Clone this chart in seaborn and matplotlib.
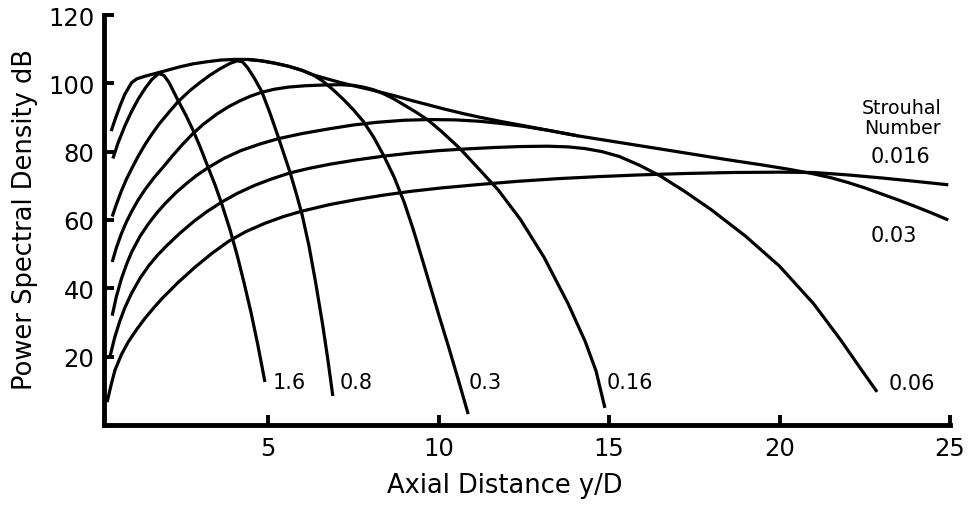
import matplotlib
matplotlib.use("Agg")
import matplotlib.pyplot as plt
import pandas as pd
import seaborn as sns

# Power spectral density along the jet axis, one curve per Strouhal number
st_labels = ["1.6", "0.8", "0.3", "0.16", "0.06", "0.03", "0.016"]

x_st_1_6 = [0.45, 0.6, 0.8, 1.0, 1.2, 1.4, 1.6, 1.8, 1.95, 2.1, 2.36, 2.6, 2.8, 3.0, 3.24,
            3.45, 3.65, 3.89, 4.1, 4.3, 4.5, 4.7, 4.91]
y_st_1_6 = [78, 82.5, 87.5, 91.8, 95.5, 98.6, 101.2, 102.9, 102.3, 100.2, 95.0, 90.5, 86.3,
            81.6, 75.5, 70.2, 64.5, 57.0, 49.5, 41.5, 33.0, 23.5, 12.6]

x_st_0_8 = [0.43, 0.55, 0.7, 0.85, 1.0, 1.2, 1.4, 1.6, 1.8, 2.1, 2.36, 2.7, 3.0, 3.3, 3.6,
            3.9, 4.1, 4.25, 4.4, 4.6, 4.82, 5.05, 5.3, 5.5, 5.65, 5.85, 6.0, 6.2, 6.4,
            6.6, 6.75, 6.9]
y_st_0_8 = [61, 64.5, 68.5, 72, 75, 78.8, 82.2, 85.2, 88, 91.6, 94.6, 97.8, 100.2, 102.4,
            104.3, 105.9, 106.6, 106.3, 104.6, 101.5, 97.5, 91.5, 84.3, 78.3, 73.8, 67,
            61.5, 52.5, 41.5, 29.5, 19.5, 8.5]

x_st_0_3 = [0.4, 0.5, 0.66, 0.8, 1.0, 1.15, 1.4, 1.7, 2.0, 2.4, 2.8, 3.2, 3.6, 4.0, 4.4,
            4.8, 5.2, 5.6, 6.0, 6.35, 6.6, 6.9, 7.2, 7.5, 7.8, 8.1, 8.4, 8.7, 9.0, 9.25,
            9.52, 10.0, 10.3, 10.57, 10.87]
y_st_0_3 = [86, 89, 93.4, 96.8, 100.2, 101.3, 102.1, 102.9, 103.7, 104.8, 105.7, 106.3,
            106.8, 107.0, 107.0, 106.6, 105.9, 105.0, 103.8, 102.3, 100.7, 98.2, 95.4,
            92.3, 88.8, 84.2, 78.7, 72.5, 65.0, 57.5, 48.6, 32.5, 22.7, 13.6, 3.2]

x_st_0_16 = [0.43, 0.55, 0.7, 0.85, 1.0, 1.2, 1.4, 1.65, 1.9, 2.2, 2.5, 2.8, 3.1, 3.5,
             3.85, 4.2, 4.5, 4.82, 5.2, 5.6, 6.1, 6.6, 7.1, 7.5, 7.8, 8.1, 8.4, 8.7, 9.0,
             9.35, 9.7, 10.1, 10.6, 11.15, 11.75, 12.4, 13.1, 13.8, 14.3, 14.62, 14.88]
y_st_0_16 = [47.7, 51.8, 56, 59.5, 62.5, 66, 69, 72.3, 75.2, 78.8, 82.2, 85.3, 88, 91,
             93.2, 95, 96.3, 97.4, 98.3, 98.9, 99.3, 99.5, 99.6, 99.4, 98.9, 98.1, 96.9,
             95.4, 93.6, 91.5, 89.2, 85.8, 81.2, 75.3, 68.8, 60.2, 49, 35.5, 24.5, 15.8, 5]

x_st_0_06 = [0.37, 0.5, 0.65, 0.8, 1.0, 1.25, 1.5, 1.75, 2.0, 2.4, 2.8, 3.2, 3.65, 4.1,
             4.6, 5.1, 5.65, 6.2, 6.8, 7.6, 8.4, 9.2, 10.0, 10.8, 11.6, 12.4, 13.2, 13.8,
             14.3, 14.8, 15.3, 15.9, 16.5, 17.2, 18.0, 19.0, 20.0, 21.0, 21.8, 22.4, 22.86]
y_st_0_06 = [20.2, 25.5, 30.3, 34.3, 38.6, 43, 46.6, 49.6, 52.2, 56, 59.4, 62.4, 65.3,
             67.8, 70.1, 72, 73.8, 75.1, 76.3, 77.6, 78.7, 79.6, 80.3, 80.8, 81.2, 81.5,
             81.6, 81.4, 80.9, 80.0, 78.6, 76, 72.9, 68.5, 63, 55.3, 46.5, 35.5, 24.8,
             16.2, 9.7]

x_st_0_03 = [0.43, 0.55, 0.7, 0.85, 1.0, 1.25, 1.5, 1.75, 2.0, 2.3, 2.6, 2.9, 3.24, 3.7,
             4.2, 4.75, 5.3, 6.0, 6.8, 7.5, 8.2, 9.0, 9.75, 10.5, 11.2, 11.8, 12.5, 13.3,
             14.1, 15.3, 16.5, 17.5, 18.5, 19.5, 20.3, 21.0, 21.5, 22.0, 22.5, 23.0, 23.5,
             24.0, 24.5, 24.95]
y_st_0_03 = [32, 37.5, 42.8, 47, 50.6, 55.3, 59, 62.2, 65, 68, 70.6, 73, 75.3, 78, 80.3,
             82.2, 83.8, 85.3, 86.7, 87.8, 88.6, 89.2, 89.4, 89.3, 88.9, 88.3, 87.4, 86.1,
             84.6, 82.7, 80.8, 79.2, 77.6, 76.1, 74.8, 73.5, 72.4, 71, 69.4, 67.6, 65.8,
             63.9, 61.9, 60]

x_st_0_016 = [0.28, 0.4, 0.51, 0.7, 0.9, 1.15, 1.39, 1.65, 1.89, 2.35, 2.86, 3.35, 3.85,
              4.35, 4.9, 5.45, 6.0, 6.8, 7.6, 8.4, 9.2, 10.1, 11.2, 12.3, 13.5, 14.7,
              15.9, 17.2, 18.6, 20.0, 21.0, 22.0, 23.0, 24.0, 24.95]
y_st_0_016 = [6.7, 11.8, 16, 20.6, 24.3, 28, 31.2, 34.3, 37, 41.6, 46.2, 50.2, 53.8,
              56.6, 59, 61, 62.6, 64.5, 66, 67.3, 68.4, 69.4, 70.4, 71.3, 72.1, 72.7,
              73.2, 73.6, 73.9, 74.0, 73.9, 73.2, 72.3, 71.3, 70.3]

# upper envelope of the family between the 0.3 and 0.03 curves
x_envelope = [4.4, 4.8, 5.2, 5.6, 6.0, 6.35, 6.7, 7.1, 7.5, 7.9, 8.3, 8.7, 9.2, 9.7, 10.2,
              10.7, 11.2, 11.8, 12.5, 13.3, 14.1]
y_envelope = [107.0, 106.6, 105.9, 105.0, 103.8, 102.4, 101.4, 100.3, 99.3, 98.4, 97.4,
              96.4, 95.0, 93.7, 92.4, 91.2, 90.1, 88.9, 87.6, 86.1, 84.6]

x_ticks = [5, 10, 15, 20, 25]
y_ticks = [20, 40, 60, 80, 100, 120]

series = {
    "1.6": (x_st_1_6, y_st_1_6),
    "0.8": (x_st_0_8, y_st_0_8),
    "0.3": (x_st_0_3, y_st_0_3),
    "0.16": (x_st_0_16, y_st_0_16),
    "0.06": (x_st_0_06, y_st_0_06),
    "0.03": (x_st_0_03, y_st_0_03),
    "0.016": (x_st_0_016, y_st_0_016),
    "envelope": (x_envelope, y_envelope),
}

frames = []
for name, (xs, ys) in series.items():
    frames.append(pd.DataFrame({"curve": name, "yD": xs, "psd": ys}))
df = pd.concat(frames, ignore_index=True)

sns.set_style("ticks")
plt.rcParams["font.family"] = ["DejaVu Sans"]

fig = plt.figure(figsize=(9.68, 5.06), dpi=100)
ax = fig.add_axes([104 / 968, 80 / 506, 846 / 968, 410 / 506])

sns.lineplot(data=df, x="yD", y="psd", units="curve", estimator=None, sort=False,
             color="black", lw=2.3, solid_joinstyle="round", solid_capstyle="butt",
             ax=ax, legend=False)

ax.set_xlim(0.19, 25.0)
ax.set_ylim(0, 120)
ax.set_xticks(x_ticks)
ax.set_yticks(y_ticks)
ax.tick_params(axis="both", direction="in", length=7, width=2.8, color="black",
               labelsize=17.5, labelcolor="black")
ax.tick_params(axis="x", pad=8)
ax.tick_params(axis="y", pad=7)

for side in ("top", "right"):
    ax.spines[side].set_visible(False)
for side in ("left", "bottom"):
    ax.spines[side].set_linewidth(3.5)
    ax.spines[side].set_color("black")

ax.set_xlabel("Axial Distance y/D", fontsize=18.5, va="center", color="black")
ax.xaxis.set_label_coords(0.474, -0.146)
ax.set_ylabel("Power Spectral Density dB", fontsize=18.5, va="center", color="black")
ax.yaxis.set_label_coords(-0.0935, 0.503)

# curve labels
label_pos = {
    "1.6": (5.62, 12.7),
    "0.8": (7.58, 12.6),
    "0.3": (11.36, 12.6),
    "0.16": (15.6, 12.6),
    "0.06": (23.88, 12.3),
    "0.016": (23.56, 78.7),
    "0.03": (23.36, 55.6),
}
for lab in st_labels:
    lx, ly = label_pos[lab]
    ax.text(lx, ly, lab, fontsize=15, ha="center", va="center", color="black")

ax.text(24.74, 90.1, "Strouhal\nNumber", fontsize=13.7, ha="right", va="center",
        multialignment="right", linespacing=1.05, color="black")

fig.savefig("out.png", dpi=100, facecolor="white")
